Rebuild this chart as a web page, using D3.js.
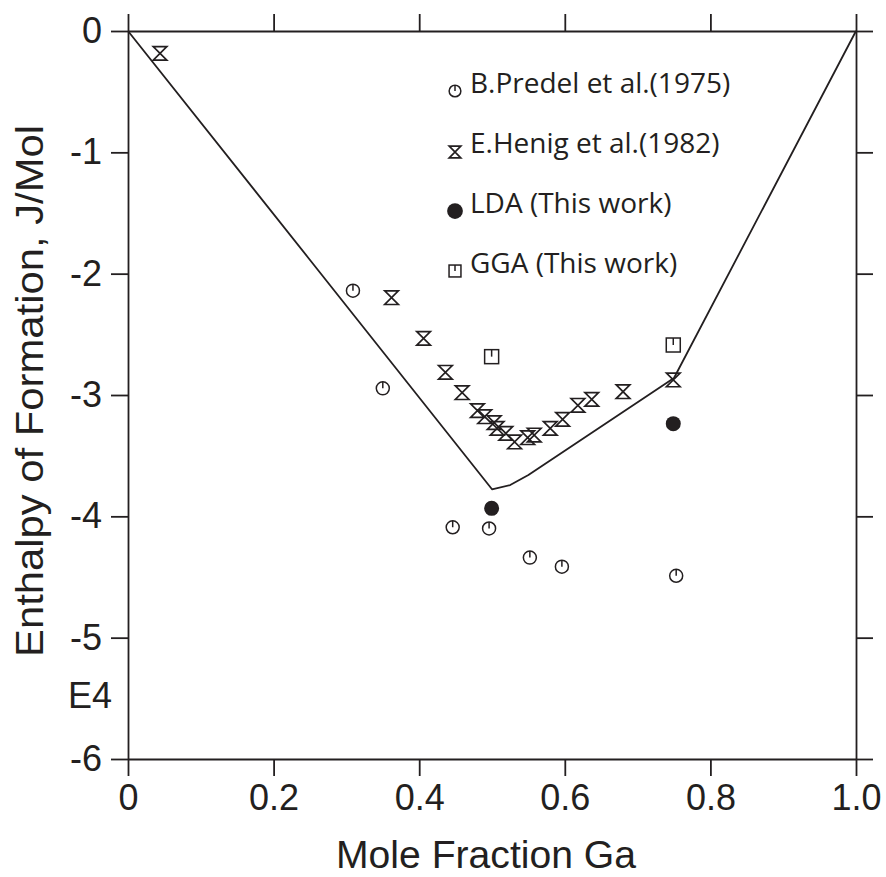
<!DOCTYPE html>
<html>
<head>
<meta charset="utf-8">
<script src="https://cdn.jsdelivr.net/npm/d3@7"></script>
<style>
  body { margin: 0; background: #fff; }
  svg { display: block; }
</style>
</head>
<body>
<svg id="chart" width="886" height="877"></svg>
<script>
// values (enthalpy in units of 1E4 J/Mol)
var predelX = [0.309, 0.350, 0.446, 0.496, 0.552, 0.596, 0.753];
var predelY = [-2.14, -2.945, -4.09, -4.10, -4.34, -4.415, -4.49];

var henigX = [0.044, 0.362, 0.406, 0.436, 0.459, 0.480, 0.490, 0.503, 0.507, 0.519, 0.531, 0.549, 0.558, 0.580, 0.597, 0.618, 0.637, 0.680, 0.749];
var henigY = [-0.184, -2.198, -2.533, -2.813, -2.981, -3.129, -3.179, -3.228, -3.275, -3.316, -3.387, -3.352, -3.330, -3.275, -3.201, -3.085, -3.036, -2.973, -2.876];

var ldaX = [0.4995, 0.749];
var ldaY = [-3.934, -3.236];

var ggaX = [0.4995, 0.749];
var ggaY = [-2.684, -2.588];

var curveX = [0, 0.25, 0.5, 0.525, 0.55, 0.75, 1.0];
var curveY = [0, -1.887, -3.777, -3.742, -3.66, -2.86, 0];

var xTicks = [0, 0.2, 0.4, 0.6, 0.8, 1.0];
var xTickLabels = ["0", "0.2", "0.4", "0.6", "0.8", "1.0"];
var yTicks = [0, -1, -2, -3, -4, -5, -6];
var yTickLabels = ["0", "-1", "-2", "-3", "-4", "-5", "-6"];

var legendLabels = ["B.Predel et al.(1975)", "E.Henig et al.(1982)", "LDA (This work)", "GGA (This work)"];

function zip(xs, ys) {
  return xs.map(function(x, i) { return { x: x, y: ys[i] }; });
}

var svg = d3.select("#chart");
var x = d3.scaleLinear().domain([0, 1]).range([128, 856]);
var y = d3.scaleLinear().domain([0, -6]).range([31, 759]);

var axisFont = "'Liberation Sans', Arial, sans-serif";
var ink = "#231f20";

function styleAxis(g) {
  g.select(".domain").attr("stroke", ink).attr("stroke-width", 1.8);
  g.selectAll(".tick line").attr("stroke", ink).attr("stroke-width", 1.8);
  g.selectAll(".tick text")
    .attr("fill", ink)
    .style("font-family", axisFont)
    .style("font-size", "36px");
}

// bottom & top
svg.append("g")
  .attr("transform", "translate(0," + y(-6) + ")")
  .call(d3.axisBottom(x).tickValues(xTicks).tickSize(17).tickSizeOuter(0).tickPadding(8)
    .tickFormat(function(d, i) { return xTickLabels[i]; }))
  .call(styleAxis);

svg.append("g")
  .attr("transform", "translate(0," + y(0) + ")")
  .call(d3.axisTop(x).tickValues(xTicks).tickSize(17).tickSizeOuter(0).tickFormat(""))
  .call(styleAxis);

// left & right
svg.append("g")
  .attr("transform", "translate(" + x(0) + ",0)")
  .call(d3.axisLeft(y).tickValues(yTicks).tickSize(17).tickSizeOuter(0).tickPadding(9)
    .tickFormat(function(d, i) { return yTickLabels[i]; }))
  .call(styleAxis);

svg.append("g")
  .attr("transform", "translate(" + x(1) + ",0)")
  .call(d3.axisRight(y).tickValues(yTicks).tickSize(17).tickSizeOuter(0).tickFormat(""))
  .call(styleAxis);

// axis titles
svg.append("text")
  .attr("x", 486).attr("y", 868)
  .attr("text-anchor", "middle")
  .attr("fill", ink)
  .attr("textLength", 300)
  .attr("lengthAdjust", "spacingAndGlyphs")
  .style("font-family", axisFont)
  .style("font-size", "38px")
  .text("Mole Fraction Ga");

svg.append("text")
  .attr("transform", "translate(43,391) rotate(-90)")
  .attr("text-anchor", "middle")
  .attr("fill", ink)
  .attr("textLength", 532)
  .attr("lengthAdjust", "spacingAndGlyphs")
  .style("font-family", axisFont)
  .style("font-size", "39px")
  .text("Enthalpy of Formation, J/Mol");

svg.append("text")
  .attr("x", 68).attr("y", 708)
  .attr("fill", ink)
  .style("font-family", axisFont)
  .style("font-size", "36px")
  .text("E4");

// line
var line = d3.line()
  .x(function(d) { return x(d.x); })
  .y(function(d) { return y(d.y); });

svg.append("path")
  .datum(zip(curveX, curveY))
  .attr("fill", "none")
  .attr("stroke", ink)
  .attr("stroke-width", 1.8)
  .attr("stroke-linejoin", "round")
  .attr("d", line);

// marker drawing helpers
function drawPredel(g, s) {
  g.append("circle").attr("r", 6.5 * s).attr("fill", "#fff").attr("stroke", ink).attr("stroke-width", 1.5);
  g.append("line").attr("x1", 0).attr("y1", -6.5 * s).attr("x2", 0).attr("y2", 0)
    .attr("stroke", ink).attr("stroke-width", 1.5);
}
function drawHenig(g, s) {
  var h = 6.8 * s;
  g.append("path")
    .attr("d", "M" + (-h) + "," + (-h) + "H" + h + "L" + (-h) + "," + h + "H" + h + "Z")
    .attr("fill", "none").attr("stroke", ink).attr("stroke-width", 1.7).attr("stroke-linejoin", "miter");
}
function drawLda(g, s) {
  g.append("circle").attr("r", 7.5 * s).attr("fill", ink);
}
function drawGga(g, s) {
  var h = 7 * s;
  g.append("rect").attr("x", -h).attr("y", -h).attr("width", 2 * h).attr("height", 2 * h)
    .attr("fill", "#fff").attr("stroke", ink).attr("stroke-width", 1.5);
  g.append("line").attr("x1", 0).attr("y1", -h).attr("x2", 0).attr("y2", 0)
    .attr("stroke", ink).attr("stroke-width", 1.5);
}

function plot(xs, ys, draw) {
  svg.append("g").selectAll("g")
    .data(zip(xs, ys))
    .join("g")
    .attr("transform", function(d) { return "translate(" + x(d.x) + "," + y(d.y) + ")"; })
    .each(function() { draw(d3.select(this), 1); });
}

plot(henigX, henigY, drawHenig);
plot(predelX, predelY, drawPredel);
plot(ggaX, ggaY, drawGga);
plot(ldaX, ldaY, drawLda);

// legend
var legendDraw = [drawPredel, drawHenig, drawLda, drawGga];
var legendScale = [0.9, 0.85, 1.05, 0.85];
var legendY = [93, 153, 213, 273];
var legendMarkY = [91, 152, 211, 271];

legendLabels.forEach(function(label, i) {
  var g = svg.append("g").attr("transform", "translate(455," + legendMarkY[i] + ")");
  legendDraw[i](g, legendScale[i]);
  svg.append("text")
    .attr("x", 470).attr("y", legendY[i])
    .attr("fill", ink)
    .style("font-family", "'Open Sans', 'Noto Sans', sans-serif")
    .style("font-size", "28px")
    .text(label);
});
</script>
</body>
</html>
